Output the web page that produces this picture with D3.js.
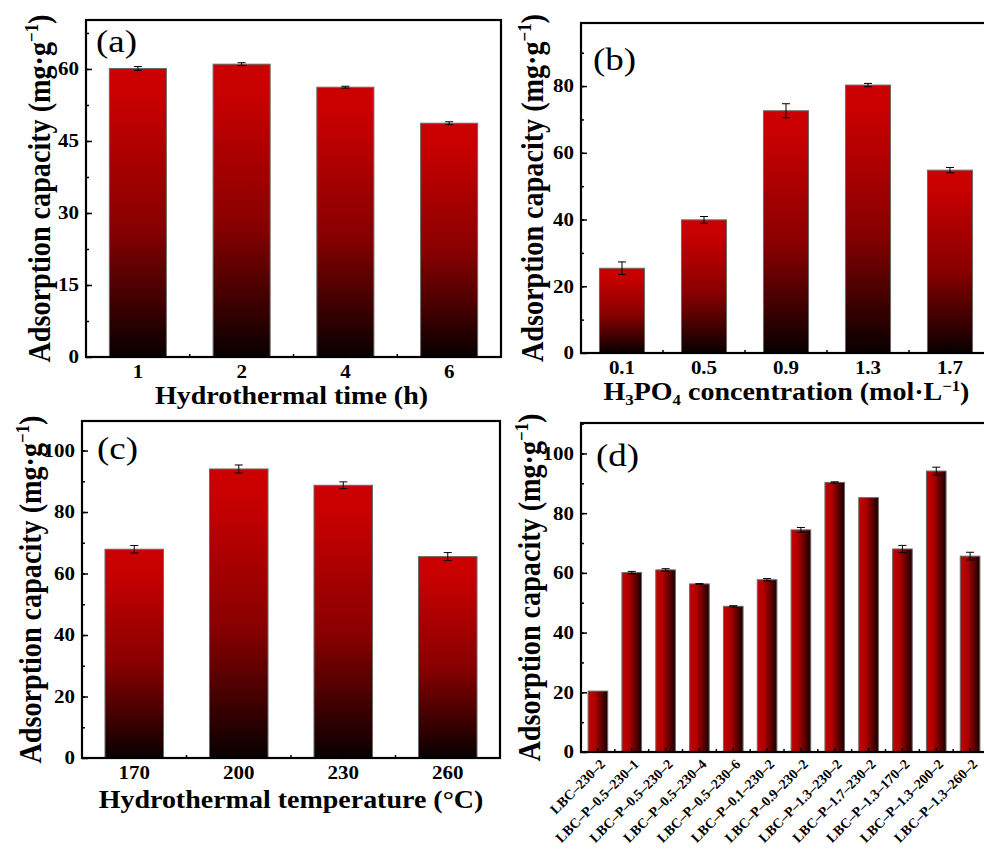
<!DOCTYPE html>
<html>
<head>
<meta charset="utf-8">
<title>Adsorption capacity</title>
<script src="https://cdn.jsdelivr.net/npm/d3@7"></script>
<style>
body { margin: 0; background: #fff; }
text { font-family: "Liberation Serif", "Times New Roman", serif; fill: #000; }
.tick text { font-weight: bold; font-size: 21px; }
.tick line { stroke: #000; stroke-width: 1.5; }
.xrot .tick text { font-size: 14px; }
</style>
</head>
<body>
<script>
// (a) hydrothermal time
var timeCats = ["1", "2", "4", "6"];
var timeVals = [60.1, 61.0, 56.2, 48.7];
var timeErrs = [0.4, 0.3, 0.2, 0.3];
var timeTicks = [0, 15, 30, 45, 60];

// (b) H3PO4 concentration
var concCats = ["0.1", "0.5", "0.9", "1.3", "1.7"];
var concVals = [25.4, 39.9, 72.6, 80.3, 54.8];
var concErrs = [1.9, 1.0, 2.1, 0.5, 0.8];
var concTicks = [0, 20, 40, 60, 80];

// (c) hydrothermal temperature
var tempCats = ["170", "200", "230", "260"];
var tempVals = [67.9, 94.0, 88.7, 65.5];
var tempErrs = [1.2, 1.3, 1.1, 1.3];
var tempTicks = [0, 20, 40, 60, 80, 100];

// (d) all samples
var sampleCats = ["LBC\u2013230\u20132", "LBC\u2013P\u20130.5\u2013230\u20131", "LBC\u2013P\u20130.5\u2013230\u20132",
  "LBC\u2013P\u20130.5\u2013230\u20134", "LBC\u2013P\u20130.5\u2013230\u20136", "LBC\u2013P\u20130.1\u2013230\u20132",
  "LBC\u2013P\u20130.9\u2013230\u20132", "LBC\u2013P\u20131.3\u2013230\u20132", "LBC\u2013P\u20131.7\u2013230\u20132",
  "LBC\u2013P\u20131.3\u2013170\u20132", "LBC\u2013P\u20131.3\u2013200\u20132", "LBC\u2013P\u20131.3\u2013260\u20132"];
var sampleVals = [20.4, 60.1, 61.0, 56.3, 48.8, 57.7, 74.4, 90.3, 85.2, 68.0, 94.1, 65.6];
var sampleErrs = [0, 0.4, 0.4, 0.1, 0.2, 0.4, 0.8, 0.2, 0, 1.2, 1.3, 1.3];
var sampleTicks = [0, 20, 40, 60, 80, 100];

var yTitle = [{t: "Adsorption capacity (mg\u00b7g"}, {t: "\u22121", s: "sup"}, {t: ")"}];

var SQ = 0.88; // glyphs in the figure are a bit flattened

var svg = d3.select("body").append("svg")
    .attr("width", 984)
    .attr("height", 850);

var defs = svg.append("defs");
function grad(id, horiz, stops) {
    var lg = defs.append("linearGradient").attr("id", id)
        .attr("x1", 0).attr("y1", 0)
        .attr("x2", horiz ? 1 : 0).attr("y2", horiz ? 0 : 1);
    stops.forEach(function(s) {
        lg.append("stop").attr("offset", s[0]).attr("stop-color", s[1]);
    });
}
grad("gv", false, [[0, "#cc0000"], [0.12, "#c60000"], [0.55, "#880000"], [0.8, "#420000"], [1, "#080000"]]);
grad("gh", true, [[0, "#c40000"], [0.35, "#b00000"], [1, "#160000"]]);

function addText(g, x, y, rot, size, bold, anchor, parts) {
    var t = g.append("text")
        .attr("transform", "translate(" + x + "," + y + ") scale(1," + SQ + ")" + (rot ? " rotate(" + rot + ")" : ""))
        .attr("font-size", size)
        .attr("font-weight", bold ? "bold" : "normal")
        .attr("text-anchor", anchor);
    var cur = 0;
    parts.forEach(function(p) {
        var target = p.s == "sup" ? -0.36 * size : (p.s == "sub" ? 0.22 * size : 0);
        t.append("tspan")
            .attr("dy", target - cur)
            .attr("font-size", p.s ? size * 0.6 : size)
            .text(p.t);
        cur = target;
    });
    return t;
}

function drawPanel(p) {
    var g = svg.append("g");
    var x = d3.scaleBand().domain(p.cats).range([p.x0, p.x1])
        .paddingInner(p.pad).paddingOuter(p.pad / 2);
    var y = d3.scaleLinear().domain([0, p.yMax]).range([p.y1, p.y0]);

    g.selectAll("rect.bar")
        .data(p.vals)
        .enter()
        .append("rect")
        .attr("class", "bar")
        .attr("x", function(d, i) { return x(p.cats[i]); })
        .attr("width", x.bandwidth())
        .attr("y", function(d) { return y(d); })
        .attr("height", function(d) { return y(0) - y(d); })
        .attr("fill", "url(#" + p.grad + ")")
        .attr("stroke", "#6a6a6a")
        .attr("stroke-width", 1);

    var errs = p.vals.map(function(v, i) { return {c: p.cats[i], v: v, e: p.errs[i]}; })
        .filter(function(d) { return d.e > 0; });
    var eb = g.selectAll("g.err").data(errs).enter().append("g")
        .attr("class", "err")
        .attr("stroke", "#000")
        .attr("stroke-width", 1);
    var cx = function(d) { return x(d.c) + x.bandwidth() / 2; };
    eb.append("line")
        .attr("x1", cx).attr("x2", cx)
        .attr("y1", function(d) { return y(d.v + d.e); })
        .attr("y2", function(d) { return y(d.v - d.e); });
    [1, -1].forEach(function(k) {
        eb.append("line")
            .attr("x1", function(d) { return cx(d) - 4; })
            .attr("x2", function(d) { return cx(d) + 4; })
            .attr("y1", function(d) { return y(d.v + k * d.e); })
            .attr("y2", function(d) { return y(d.v + k * d.e); });
    });

    // y axis, ticks pointing in
    g.append("g")
        .attr("transform", "translate(" + p.x0 + ",0)")
        .call(d3.axisLeft(y).tickValues(d3.range(p.minor, p.yMax, p.minor)).tickSize(-3).tickFormat(""))
        .call(function(a) { a.select(".domain").remove(); });
    g.append("g")
        .attr("transform", "translate(" + p.x0 + ",0)")
        .call(d3.axisLeft(y).tickValues(p.ticks).tickSize(-6).tickPadding(7))
        .call(function(a) { a.select(".domain").remove(); })
        .selectAll(".tick text")
        .attr("transform", "scale(1," + SQ + ")");

    // x axis
    var xa = g.append("g")
        .attr("class", p.rotate ? "xrot" : "")
        .attr("transform", "translate(0," + p.y1 + ")")
        .call(d3.axisBottom(x).tickSize(-4).tickPadding(9))
        .call(function(a) { a.select(".domain").remove(); });
    if (p.rotate) {
        xa.selectAll(".tick text")
            .attr("x", 0).attr("y", 0).attr("dy", 0)
            .attr("text-anchor", "end")
            .attr("transform", "translate(8,13) rotate(-45)");
    } else {
        xa.selectAll(".tick text").attr("transform", "scale(1," + SQ + ")");
    }
    var bounds = p.cats.slice(1).map(function(c) { return x(c) - x.step() * p.pad / 2; });
    g.selectAll("line.minor")
        .data(bounds)
        .enter()
        .append("line")
        .attr("x1", function(d) { return d; })
        .attr("x2", function(d) { return d; })
        .attr("y1", p.y1)
        .attr("y2", p.y1 - 3)
        .attr("stroke", "#000")
        .attr("stroke-width", 1.5);

    // frame
    g.append("rect")
        .attr("x", p.x0).attr("y", p.y0)
        .attr("width", p.x1 - p.x0).attr("height", p.y1 - p.y0)
        .attr("fill", "none")
        .attr("stroke", "#000")
        .attr("stroke-width", 2.2);

    addText(g, p.lx, p.ly, 0, 37, false, "start", [{t: p.label}]);
    addText(g, p.ytx, (p.y0 + p.y1) / 2, -90, 32, true, "middle", yTitle);
    if (p.xTitle) addText(g, (p.x0 + Math.min(p.x1, 984)) / 2 + p.xtdx, p.xty, 0, 28, true, "middle", p.xTitle);
}

drawPanel({cats: timeCats, vals: timeVals, errs: timeErrs, ticks: timeTicks,
    x0: 86, x1: 501, y0: 20, y1: 357, yMax: 70.2, minor: 7.5, pad: 0.45, grad: "gv",
    label: "(a)", lx: 96, ly: 52, ytx: 50, xty: 404, xtdx: -2,
    xTitle: [{t: "Hydrothermal time (h)"}]});

drawPanel({cats: concCats, vals: concVals, errs: concErrs, ticks: concTicks,
    x0: 581, x1: 991, y0: 23, y1: 353, yMax: 98.9, minor: 10, pad: 0.45, grad: "gv",
    label: "(b)", lx: 593, ly: 70, ytx: 543, xty: 400, xtdx: 4,
    xTitle: [{t: "H"}, {t: "3", s: "sub"}, {t: "PO"}, {t: "4", s: "sub"}, {t: " concentration (mol\u00b7L"}, {t: "\u22121", s: "sup"}, {t: ")"}]});

drawPanel({cats: tempCats, vals: tempVals, errs: tempErrs, ticks: tempTicks,
    x0: 82, x1: 500, y0: 421, y1: 758, yMax: 109.6, minor: 10, pad: 0.44, grad: "gv",
    label: "(c)", lx: 97, ly: 459, ytx: 41, xty: 808, xtdx: 0,
    xTitle: [{t: "Hydrothermal temperature (\u00b0C)"}]});

drawPanel({cats: sampleCats, vals: sampleVals, errs: sampleErrs, ticks: sampleTicks,
    x0: 581, x1: 987, y0: 423, y1: 752, yMax: 110.2, minor: 10, pad: 0.42, grad: "gh",
    label: "(d)", lx: 596, ly: 466, ytx: 540, rotate: true});
</script>
</body>
</html>
